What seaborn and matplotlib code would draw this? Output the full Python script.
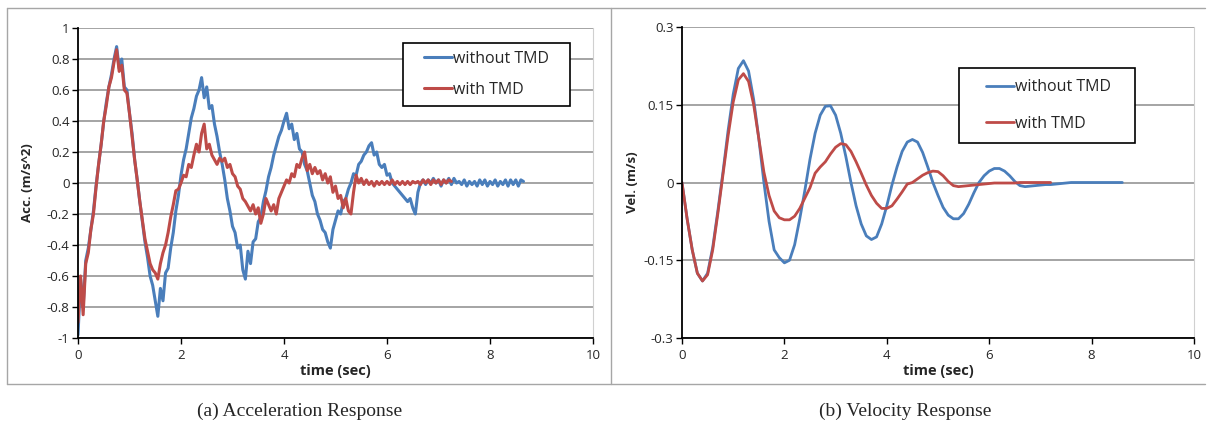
import numpy as np
import pandas as pd
import seaborn as sns
import matplotlib.pyplot as plt
from matplotlib.lines import Line2D
from matplotlib.patches import Rectangle

# sample step of the recorded signals (sec)
dt_acc = 0.05
dt_vel = 0.1

# acceleration, without TMD (m/s^2)
acc_without = [
    -0.98, -0.62, -0.80, -0.50, -0.42, -0.30, -0.18, -0.02, 0.12, 0.25,
    0.40, 0.52, 0.62, 0.70, 0.80, 0.88, 0.74, 0.80, 0.62, 0.60,
    0.45, 0.32, 0.15, 0.02, -0.12, -0.25, -0.38, -0.48, -0.60, -0.66,
    -0.76, -0.86, -0.68, -0.76, -0.58, -0.55, -0.42, -0.32, -0.18, -0.08,
    0.05, 0.15, 0.22, 0.32, 0.42, 0.48, 0.56, 0.60, 0.68, 0.55,
    0.62, 0.48, 0.50, 0.38, 0.30, 0.20, 0.12, 0.02, -0.10, -0.18,
    -0.28, -0.32, -0.42, -0.40, -0.56, -0.62, -0.44, -0.52, -0.38, -0.36,
    -0.25, -0.22, -0.12, -0.05, 0.04, 0.10, 0.18, 0.24, 0.30, 0.34,
    0.40, 0.45, 0.35, 0.38, 0.28, 0.32, 0.22, 0.20, 0.12, 0.08,
    0.00, -0.08, -0.12, -0.20, -0.24, -0.30, -0.32, -0.38, -0.42, -0.30,
    -0.24, -0.18, -0.20, -0.12, -0.10, -0.04, 0.00, 0.06, 0.05, 0.12,
    0.14, 0.18, 0.20, 0.24, 0.26, 0.18, 0.20, 0.12, 0.10, 0.12,
    0.05, 0.06, 0.00, -0.02, -0.04, -0.06, -0.08, -0.10, -0.12, -0.10,
    -0.16, -0.20, -0.06, 0.00, 0.02, -0.01, 0.02, 0.00, 0.03, 0.00,
    0.02, -0.02, 0.02, 0.00, 0.03, -0.01, 0.03, 0.00, 0.01, -0.01,
    0.02, -0.02, 0.01, -0.01, 0.01, -0.02, 0.02, -0.01, 0.02, -0.02,
    0.01, -0.01, 0.02, -0.02, 0.01, -0.01, 0.02, -0.02, 0.02, -0.01,
    0.02, -0.02, 0.02, 0.01,
]

# acceleration, with TMD (m/s^2)
acc_with = [
    -0.90, -0.60, -0.85, -0.52, -0.45, -0.30, -0.20, -0.03, 0.12, 0.25,
    0.40, 0.50, 0.62, 0.68, 0.78, 0.86, 0.72, 0.76, 0.60, 0.58,
    0.45, 0.30, 0.15, 0.02, -0.12, -0.24, -0.36, -0.44, -0.52, -0.56,
    -0.58, -0.62, -0.52, -0.45, -0.40, -0.32, -0.22, -0.14, -0.05, -0.04,
    0.00, 0.05, 0.04, 0.12, 0.10, 0.18, 0.25, 0.20, 0.32, 0.38,
    0.22, 0.25, 0.18, 0.15, 0.12, 0.16, 0.14, 0.16, 0.10, 0.12,
    0.06, 0.04, -0.02, -0.04, -0.10, -0.12, -0.15, -0.18, -0.14, -0.20,
    -0.16, -0.26, -0.20, -0.10, -0.14, -0.18, -0.14, -0.20, -0.10, -0.06,
    -0.02, 0.02, 0.00, 0.06, 0.04, 0.12, 0.10, 0.16, 0.20, 0.08,
    0.12, 0.06, 0.10, 0.06, 0.08, 0.02, 0.06, 0.00, 0.04, -0.06,
    -0.02, -0.10, -0.08, -0.16, -0.10, -0.18, -0.20, -0.06, 0.05, 0.00,
    0.03, -0.01, 0.02, -0.01, 0.01, -0.02, 0.01, -0.01, 0.01, -0.01,
    0.01, -0.01, 0.02, -0.01, 0.01, -0.01, 0.01, -0.01, 0.01, -0.01,
    0.01, 0.00, 0.01, -0.01, 0.02, 0.00, 0.02, -0.01, 0.02, 0.00,
    0.02, -0.01, 0.02, 0.00, 0.02, 0.01,
]

# velocity, without TMD (m/s)
vel_without = [
    0.0, -0.07, -0.13, -0.175, -0.19, -0.175, -0.125, -0.055, 0.02, 0.10,
    0.17, 0.22, 0.235, 0.215, 0.16, 0.085, 0.0, -0.075, -0.13, -0.145,
    -0.155, -0.15, -0.12, -0.07, -0.015, 0.045, 0.095, 0.13, 0.147, 0.148,
    0.13, 0.095, 0.05, 0.0, -0.045, -0.08, -0.103, -0.11, -0.105, -0.08,
    -0.045, -0.005, 0.03, 0.06, 0.078, 0.083, 0.078, 0.058, 0.03, 0.0,
    -0.025, -0.048, -0.063, -0.07, -0.07, -0.06, -0.042, -0.02, 0.0, 0.013,
    0.022, 0.027, 0.027, 0.022, 0.013, 0.002, -0.006, -0.008, -0.007, -0.006,
    -0.005, -0.004, -0.004, -0.003, -0.002, -0.001, 0.0, 0.0, 0.0, 0.0,
    0.0, 0.0, 0.0, 0.0, 0.0, 0.0, 0.0,
]

# velocity, with TMD (m/s)
vel_with = [
    0.0, -0.07, -0.13, -0.175, -0.19, -0.178, -0.13, -0.06, 0.015, 0.09,
    0.155, 0.198, 0.21, 0.195, 0.15, 0.085, 0.02, -0.025, -0.055, -0.068,
    -0.072, -0.072, -0.065, -0.05, -0.03, -0.01, 0.018, 0.03, 0.04, 0.055,
    0.068, 0.075, 0.073, 0.06, 0.04, 0.018, -0.005, -0.025, -0.04, -0.05,
    -0.05, -0.045, -0.032, -0.018, -0.003, 0.0, 0.007, 0.014, 0.019, 0.022,
    0.021, 0.013, 0.002, -0.006, -0.008, -0.007, -0.006, -0.005, -0.004, -0.003,
    -0.002, -0.001, -0.001, -0.001, -0.001, -0.001, 0.0, 0.0, 0.0, 0.0,
    0.0, 0.0, 0.0,
]

acc_ticks = [-1, -0.8, -0.6, -0.4, -0.2, 0, 0.2, 0.4, 0.6, 0.8, 1]
acc_labels = ["-1", "-0.8", "-0.6", "-0.4", "-0.2", "0", "0.2", "0.4", "0.6", "0.8", "1"]
vel_ticks = [-0.3, -0.15, 0, 0.15, 0.3]
vel_labels = ["-0.3", "-0.15", "0", "0.15", "0.3"]
time_ticks = [0, 2, 4, 6, 8, 10]

BLUE = "#4a7ebb"
RED = "#be4b48"

acc_df = pd.concat([
    pd.DataFrame({"t": np.arange(len(acc_without)) * dt_acc, "y": acc_without, "case": "without TMD"}),
    pd.DataFrame({"t": np.arange(len(acc_with)) * dt_acc, "y": acc_with, "case": "with TMD"}),
])
vel_df = pd.concat([
    pd.DataFrame({"t": np.arange(len(vel_without)) * dt_vel, "y": vel_without, "case": "without TMD"}),
    pd.DataFrame({"t": np.arange(len(vel_with)) * dt_vel, "y": vel_with, "case": "with TMD"}),
])

sns.set_style("white")
plt.rcParams["font.family"] = ["Open Sans", "DejaVu Sans"]

W, H = 1209, 428
fig = plt.figure(figsize=(W / 100, H / 100), dpi=100)

# outer frames around the two charts
frame = dict(color="#a6a6a6", lw=1.0, transform=fig.transFigure)
fig.add_artist(Line2D([7 / W, 1205 / W], [1 - 8 / H, 1 - 8 / H], **frame))
fig.add_artist(Line2D([7 / W, 1205 / W], [1 - 384 / H, 1 - 384 / H], **frame))
fig.add_artist(Line2D([7 / W, 7 / W], [1 - 8 / H, 1 - 384 / H], **frame))
fig.add_artist(Line2D([611 / W, 611 / W], [1 - 8 / H, 1 - 384 / H], **frame))


def make_ax(x0, x1, y0, y1):
    return fig.add_axes([x0 / W, 1 - y1 / H, (x1 - x0) / W, (y1 - y0) / H])


ax1 = make_ax(78, 593, 28, 338)
ax2 = make_ax(682, 1194, 27, 338)

palette = {"without TMD": BLUE, "with TMD": RED}
sns.lineplot(data=acc_df, x="t", y="y", hue="case", palette=palette,
             linewidth=2.2, ax=ax1, estimator=None, sort=False)
sns.lineplot(data=vel_df, x="t", y="y", hue="case", palette=palette,
             linewidth=2.0, ax=ax2, estimator=None, sort=False)

# (axis, ticks, labels, ylabel, ylabel pad, legend box px, legend anchor px, row spacing)
setups = [
    (ax1, acc_ticks, acc_labels, "Acc. (m/s^2)", 9, (403, 43, 570, 106), (424, 74.5), 0.95),
    (ax2, vel_ticks, vel_labels, "Vel. (m/s)", 3, (959, 68, 1135, 143), (986, 105.5), 1.28),
]
for ax, yticks, ylabels, ylab, ypad, box, anchor, spacing in setups:
    ax.set_xlim(0, 10)
    ax.set_ylim(yticks[0], yticks[-1])
    ax.set_xticks(time_ticks)
    ax.set_xticklabels([str(v) for v in time_ticks])
    ax.set_yticks(yticks)
    ax.set_yticklabels(ylabels)
    ax.grid(axis="y", color="#8c8c8c", lw=1.1)
    ax.grid(axis="x", visible=False)
    ax.set_axisbelow(True)
    ax.spines["top"].set_visible(False)
    ax.spines["right"].set_color("#d0d0d0")
    ax.spines["left"].set_color("black")
    ax.spines["bottom"].set_color("black")
    ax.spines["left"].set_linewidth(1.3)
    ax.spines["bottom"].set_linewidth(1.3)
    ax.tick_params(axis="both", direction="out", length=4, width=1,
                   color="black", labelsize=9.5, labelcolor="#262626", pad=2)
    ax.tick_params(axis="x", pad=4)
    ax.tick_params(left=True, bottom=True)
    ax.set_xlabel("time (sec)", fontsize=10.5, fontweight="bold", labelpad=1)
    ax.set_ylabel(ylab, fontsize=9.5, fontweight="bold", labelpad=ypad)

    # legend frame (Excel style, wide padding on the right)
    x0, y0, x1, y1 = box
    ax.add_patch(Rectangle((x0 / W, 1 - y1 / H), (x1 - x0) / W, (y1 - y0) / H,
                           transform=fig.transFigure, facecolor="white",
                           edgecolor="black", lw=1.2, zorder=4, clip_on=False))
    ax.legend(loc="center left", bbox_to_anchor=(anchor[0] / W, 1 - anchor[1] / H),
              bbox_transform=fig.transFigure, frameon=False, fontsize=11.5,
              handlelength=1.75, handletextpad=0.05, labelspacing=spacing,
              borderpad=0, borderaxespad=0)

fig.text(300 / W, 1 - 411 / H, "(a) Acceleration Response", ha="center", va="center",
         fontsize=14, family="Liberation Serif")
fig.text(905 / W, 1 - 411 / H, "(b) Velocity Response", ha="center", va="center",
         fontsize=14, family="Liberation Serif")

fig.savefig("out.png", dpi=100)
